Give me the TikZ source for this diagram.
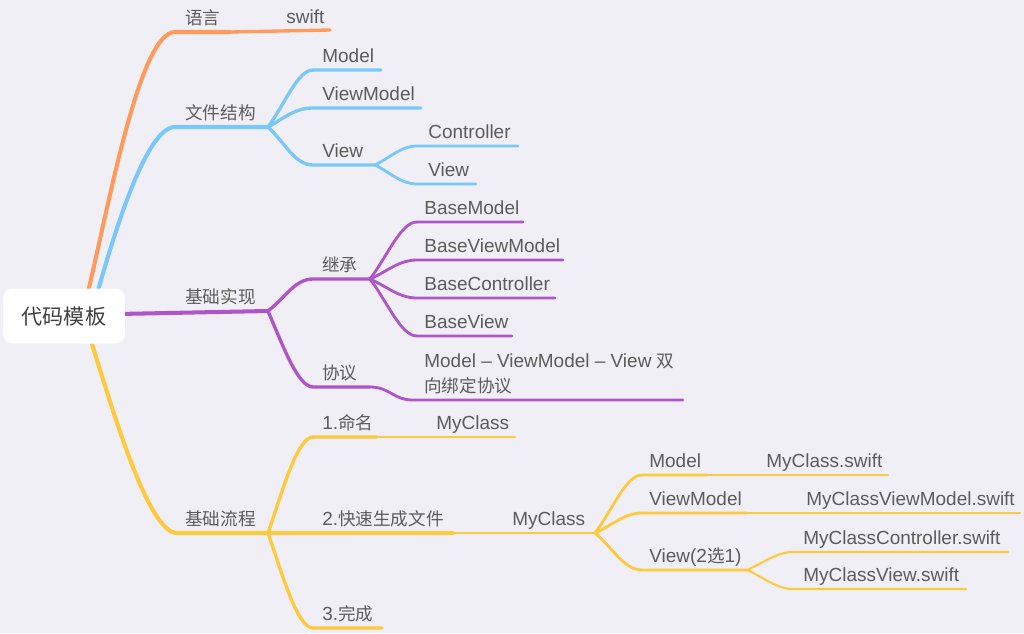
\documentclass[tikz,border=0pt]{standalone}
\usepackage{fontspec}
\setmainfont{Liberation Sans}[Scale=1.08]
\newfontfamily\cjk{Noto Sans CJK SC}
\usetikzlibrary{calc}
\definecolor{bg}{HTML}{F0EFF5}
\definecolor{corange}{HTML}{FF9A5C}
\definecolor{cblue}{HTML}{7AC8FA}
\definecolor{cpurple}{HTML}{AF55C8}
\definecolor{cyellow}{HTML}{FFC93E}
\definecolor{txtgray}{HTML}{5C5C5C}
\definecolor{roottxt}{HTML}{404040}
\tikzset{
  lone/.style={line width=2.3pt, line cap=round},
  ltwo/.style={line width=1.9pt, line cap=round},
  lthree/.style={line width=1.6pt, line cap=round},
  lfour/.style={line width=1.2pt, line cap=round},
  lbl/.style={anchor=base west, inner sep=0pt, text=txtgray, font=\fontsize{10}{12}\selectfont},
  rootbox/.style={fill=white, rounded corners=0.2cm, minimum width=2.44cm, minimum height=1.1cm, inner sep=0pt, text=roottxt, font=\fontsize{12}{14}\selectfont\cjk}
}
\begin{document}
\begin{tikzpicture}[x=0.02cm, y=0.02cm]
\fill[bg] (0,0) rectangle (1024,-633);
\useasboundingbox (0,0) rectangle (1024,-633);

% ---------- orange ----------
\coordinate (o0) at (88,-292);
\coordinate (o1) at (175,-32);
\coordinate (o2) at (230,-32);
\coordinate (o3) at (330,-30);
\draw[lone,corange] (o0) .. controls ($(o0)+(22,92)$) and ($(o1)+(-35,0)$) .. (o1) -- (o2);
\draw[ltwo,corange] (o2) -- (o3);

% ---------- blue ----------
\coordinate (b0) at (97,-294);
\coordinate (b1) at (175,-127);
\coordinate (b2) at (268,-127);
\draw[lone,cblue] (b0) .. controls ($(b0)+(15,52)$) and ($(b1)+(-30,0)$) .. (b1) -- (b2);
\coordinate (bm1) at (313,-70);  \coordinate (bm2) at (381,-70);
\coordinate (bvm1) at (313,-108); \coordinate (bvm2) at (421,-108);
\coordinate (bv1) at (313,-165); \coordinate (bv2) at (375,-165);
\draw[ltwo,cblue] (b2) .. controls ($(b2)+(18,25)$) and ($(bm1)+(-15,0)$) .. (bm1) -- (bm2);
\draw[ltwo,cblue] (b2) .. controls ($(b2)+(18,10)$) and ($(bvm1)+(-18,0)$) .. (bvm1) -- (bvm2);
\draw[ltwo,cblue] (b2) .. controls ($(b2)+(18,-17)$) and ($(bv1)+(-18,0)$) .. (bv1) -- (bv2);
\coordinate (bc1) at (417,-146); \coordinate (bc2) at (518,-146);
\coordinate (bw1) at (417,-184); \coordinate (bw2) at (476,-184);
\draw[lthree,cblue] (bv2) .. controls ($(bv2)+(16,8)$) and ($(bc1)+(-16,0)$) .. (bc1) -- (bc2);
\draw[lthree,cblue] (bv2) .. controls ($(bv2)+(16,-8)$) and ($(bw1)+(-16,0)$) .. (bw1) -- (bw2);

% ---------- purple ----------
\coordinate (p0) at (118,-314);
\coordinate (p1) at (268,-311);
\draw[lone,cpurple] (p0) -- (p1);
\coordinate (pj1) at (313,-279); \coordinate (pj2) at (370,-279);
\draw[ltwo,cpurple] (p1) .. controls ($(p1)+(18,14)$) and ($(pj1)+(-18,0)$) .. (pj1) -- (pj2);
\coordinate (pa1) at (417,-222); \coordinate (pa2) at (523,-222);
\coordinate (pb1) at (417,-260); \coordinate (pb2) at (563,-260);
\coordinate (pc1) at (417,-298); \coordinate (pc2) at (555,-298);
\coordinate (pd1) at (417,-336); \coordinate (pd2) at (512,-336);
\draw[lthree,cpurple] (pj2) .. controls ($(pj2)+(18,24)$) and ($(pa1)+(-16,0)$) .. (pa1) -- (pa2);
\draw[lthree,cpurple] (pj2) .. controls ($(pj2)+(18,8)$) and ($(pb1)+(-18,0)$) .. (pb1) -- (pb2);
\draw[lthree,cpurple] (pj2) .. controls ($(pj2)+(18,-8)$) and ($(pc1)+(-18,0)$) .. (pc1) -- (pc2);
\draw[lthree,cpurple] (pj2) .. controls ($(pj2)+(18,-24)$) and ($(pd1)+(-16,0)$) .. (pd1) -- (pd2);
\coordinate (px1) at (313,-387); \coordinate (px2) at (370,-387);
\coordinate (px3) at (413,-400); \coordinate (px4) at (683,-400);
\draw[ltwo,cpurple] (p1) .. controls ($(p1)+(15,-35)$) and ($(px1)+(-15,0)$) .. (px1) -- (px2);
\draw[lthree,cpurple] (px2) .. controls ($(px2)+(20,0)$) and ($(px3)+(-20,0)$) .. (px3) -- (px4);

% ---------- yellow ----------
\coordinate (y0) at (90,-338);
\coordinate (y1) at (177,-533);
\coordinate (y2) at (268,-533);
\draw[lone,cyellow] (y0) .. controls ($(y0)+(20,-62)$) and ($(y1)+(-30,0)$) .. (y1) -- (y2);
\coordinate (yn1) at (313,-437); \coordinate (yn2) at (377,-437); \coordinate (yn3) at (515,-437);
\draw[ltwo,cyellow] (y2) .. controls ($(y2)+(14,40)$) and ($(yn1)+(-16,0)$) .. (yn1) -- (yn2);
\draw[lthree,cyellow] (yn2) -- (yn3);
\coordinate (ys1) at (453,-533); \coordinate (ys2) at (595,-533);
\draw[ltwo,cyellow] (y2) -- (ys1);
\draw[lthree,cyellow] (ys1) -- (ys2);
\coordinate (yw1) at (313,-628); \coordinate (yw2) at (382,-628);
\draw[ltwo,cyellow] (y2) .. controls ($(y2)+(14,-40)$) and ($(yw1)+(-16,0)$) .. (yw1) -- (yw2);
\coordinate (ym1) at (642,-475); \coordinate (ym2) at (707,-475); \coordinate (ym3) at (888,-475);
\coordinate (yv1) at (642,-513); \coordinate (yv2) at (747,-513); \coordinate (yv3) at (1020,-513);
\coordinate (yx1) at (642,-570); \coordinate (yx2) at (747,-570);
\draw[lthree,cyellow] (ys2) .. controls ($(ys2)+(18,24)$) and ($(ym1)+(-16,0)$) .. (ym1) -- (ym2);
\draw[lfour,cyellow] (ym2) -- (ym3);
\draw[lthree,cyellow] (ys2) .. controls ($(ys2)+(18,8)$) and ($(yv1)+(-18,0)$) .. (yv1) -- (yv2);
\draw[lfour,cyellow] (yv2) -- (yv3);
\draw[lthree,cyellow] (ys2) .. controls ($(ys2)+(18,-15)$) and ($(yx1)+(-18,0)$) .. (yx1) -- (yx2);
\coordinate (yc1) at (793,-552); \coordinate (yc2) at (1008,-552);
\coordinate (yf1) at (793,-589); \coordinate (yf2) at (966,-589);
\draw[lfour,cyellow] (yx2) .. controls ($(yx2)+(16,7)$) and ($(yc1)+(-16,0)$) .. (yc1) -- (yc2);
\draw[lfour,cyellow] (yx2) .. controls ($(yx2)+(16,-7)$) and ($(yf1)+(-16,0)$) .. (yf1) -- (yf2);

% ---------- root ----------
\node[rootbox] (root) at (64,-316) {代码模板};

% ---------- labels ----------
\node[lbl] (t1) at (185,-24.5) {\cjk 语言};
\node[lbl] (t2) at (286,-23.5) {swift};
\node[lbl] (t3) at (185,-119.5) {\cjk 文件结构};
\node[lbl] (t4) at (322,-62.5) {Model};
\node[lbl] (t5) at (322,-100.5) {ViewModel};
\node[lbl] (t6) at (322,-157.5) {View};
\node[lbl] (t7) at (428,-138.5) {Controller};
\node[lbl] (t8) at (428,-176.5) {View};
\node[lbl] (t9) at (185,-303.5) {\cjk 基础实现};
\node[lbl] (t10) at (322,-271.5) {\cjk 继承};
\node[lbl] (t11) at (424,-214.5) {BaseModel};
\node[lbl] (t12) at (424,-252.5) {BaseViewModel};
\node[lbl] (t13) at (424,-290.5) {BaseController};
\node[lbl] (t14) at (424,-328.5) {BaseView};
\node[lbl] (t15) at (322,-379.5) {\cjk 协议};
\node[lbl] (t16) at (424,-367) {Model – ViewModel – View {\cjk 双}};
\node[lbl] (t17) at (424,-392) {\cjk 向绑定协议};
\node[lbl] (t18) at (185,-525.5) {\cjk 基础流程};
\node[lbl] (t19) at (322,-429.5) {1.{\cjk 命名}};
\node[lbl] (t20) at (436,-429.5) {MyClass};
\node[lbl] (t21) at (322,-525.5) {2.{\cjk 快速生成文件}};
\node[lbl] (t22) at (512,-525.5) {MyClass};
\node[lbl] (t23) at (322,-620.5) {3.{\cjk 完成}};
\node[lbl] (t24) at (649,-467.5) {Model};
\node[lbl] (t25) at (766,-467.5) {MyClass.swift};
\node[lbl] (t26) at (649,-505.5) {ViewModel};
\node[lbl] (t27) at (806,-505.5) {MyClassViewModel.swift};
\node[lbl] (t28) at (649,-562.5) {View(2{\cjk 选}1)};
\node[lbl] (t29) at (803,-544.5) {MyClassController.swift};
\node[lbl] (t30) at (803,-581.5) {MyClassView.swift};
\end{tikzpicture}
\end{document}
